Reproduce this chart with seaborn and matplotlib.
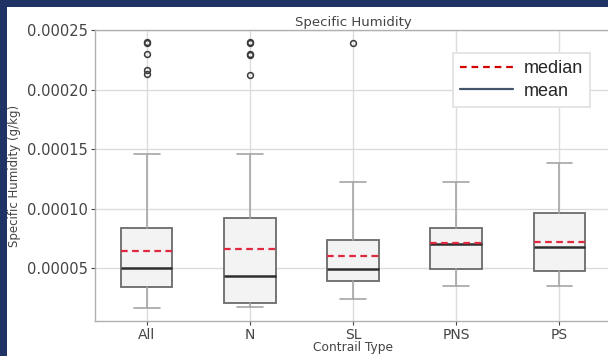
import matplotlib
matplotlib.use("Agg")
import matplotlib.pyplot as plt
import seaborn as sns
from matplotlib.lines import Line2D
from matplotlib.patches import Rectangle
from matplotlib.ticker import FormatStrFormatter, MultipleLocator

# ---- data ----
categories = ["All", "N", "SL", "PNS", "PS"]
q1 = [0.0000343, 0.0000208, 0.0000393, 0.0000492, 0.0000472]
q3 = [0.0000834, 0.0000918, 0.0000738, 0.0000839, 0.0000960]
median_vals = [0.0000645, 0.0000657, 0.0000601, 0.0000710, 0.0000716]
mean_vals = [0.0000503, 0.0000433, 0.0000489, 0.0000704, 0.0000676]
whisker_low = [0.0000166, 0.0000170, 0.0000240, 0.0000349, 0.0000349]
whisker_high = [0.0001458, 0.0001460, 0.0001220, 0.0001220, 0.0001380]
outliers = [
    [0.000240, 0.000239, 0.000230, 0.000216, 0.000213],
    [0.000240, 0.000239, 0.000230, 0.000229, 0.000212],
    [0.000239],
    [],
    [],
]

sns.set_theme(style="whitegrid")
plt.rcParams["font.family"] = ["DejaVu Sans"]

fig = plt.figure(figsize=(6.08, 3.56), dpi=100)
fig.patch.set_facecolor("white")
ax = fig.add_axes([95 / 608, 35 / 356, 516 / 608, 291 / 356])
ax.set_facecolor("white")

stats = []
for i, c in enumerate(categories):
    stats.append(dict(label=c, q1=q1[i], q3=q3[i], med=median_vals[i],
                      mean=mean_vals[i], whislo=whisker_low[i],
                      whishi=whisker_high[i], fliers=outliers[i]))

ax.bxp(stats, positions=range(len(categories)), widths=0.5,
       patch_artist=True, showmeans=True, meanline=True,
       boxprops=dict(facecolor="#f3f3f3", edgecolor="#6a6a6a", linewidth=1.3),
       whiskerprops=dict(color="#a6a6a6", linewidth=1.2),
       capprops=dict(color="#a6a6a6", linewidth=1.2),
       medianprops=dict(color="#e0283f", linewidth=1.6, linestyle=(0, (3, 2)), zorder=4),
       meanprops=dict(color="#2e2e2e", linewidth=1.8, linestyle="-", zorder=3),
       flierprops=dict(marker="o", markersize=4.2, markerfacecolor="none",
                       markeredgecolor="#3a3a3a", markeredgewidth=1.1))

ax.set_xlim(-0.5, len(categories) - 0.5)
ax.set_ylim(0.0000055, 0.00025)
ax.yaxis.set_major_locator(MultipleLocator(0.00005))
ax.yaxis.set_major_formatter(FormatStrFormatter("%.5f"))
ax.set_xticks(range(len(categories)), categories)

ax.grid(True, color="#dcdcdc", linewidth=1.0)
ax.set_axisbelow(True)
for s in ax.spines.values():
    s.set_color("#b0b0b0")
    s.set_linewidth(1.0)

ax.tick_params(axis="y", labelsize=10.5, colors="#444444", length=3, width=0.8,
               left=True, pad=2, labelcolor="#444444")
ax.tick_params(axis="x", labelsize=10, colors="#444444", length=3, width=0.8,
               bottom=True, pad=2, labelcolor="#444444")

ax.set_title("Specific Humidity", fontsize=9.5, color="#444444", pad=3)
ax.set_xlabel("Contrail Type", fontsize=8.8, color="#444444", labelpad=-1)
ax.set_ylabel("Specific Humidity (g/kg)", fontsize=8.5, color="#444444", labelpad=4)

handles = [Line2D([0], [0], color="#d40000", linestyle=(0, (3, 2.2)), linewidth=1.6),
           Line2D([0], [0], color="#44546a", linestyle="-", linewidth=1.6)]
leg = ax.legend(handles, ["median", "mean"], loc="upper left",
                bbox_to_anchor=(453 / 608, 1 - 53 / 356), bbox_transform=fig.transFigure,
                prop=dict(family="Liberation Sans", size=13), handlelength=2.9,
                handletextpad=0.6, labelspacing=0.3, borderpad=0.4,
                borderaxespad=0, fancybox=False, framealpha=1,
                edgecolor="#e0e0e0", facecolor="white")
leg.get_frame().set_linewidth(1.2)

# slide border
navy = "#1f3464"
fig.patches.append(Rectangle((0, 1 - 7 / 356), 1, 7 / 356, transform=fig.transFigure,
                             facecolor=navy, edgecolor="none", zorder=10))
fig.patches.append(Rectangle((0, 0), 7 / 608, 1, transform=fig.transFigure,
                             facecolor=navy, edgecolor="none", zorder=10))

fig.savefig("out.png", dpi=100)
